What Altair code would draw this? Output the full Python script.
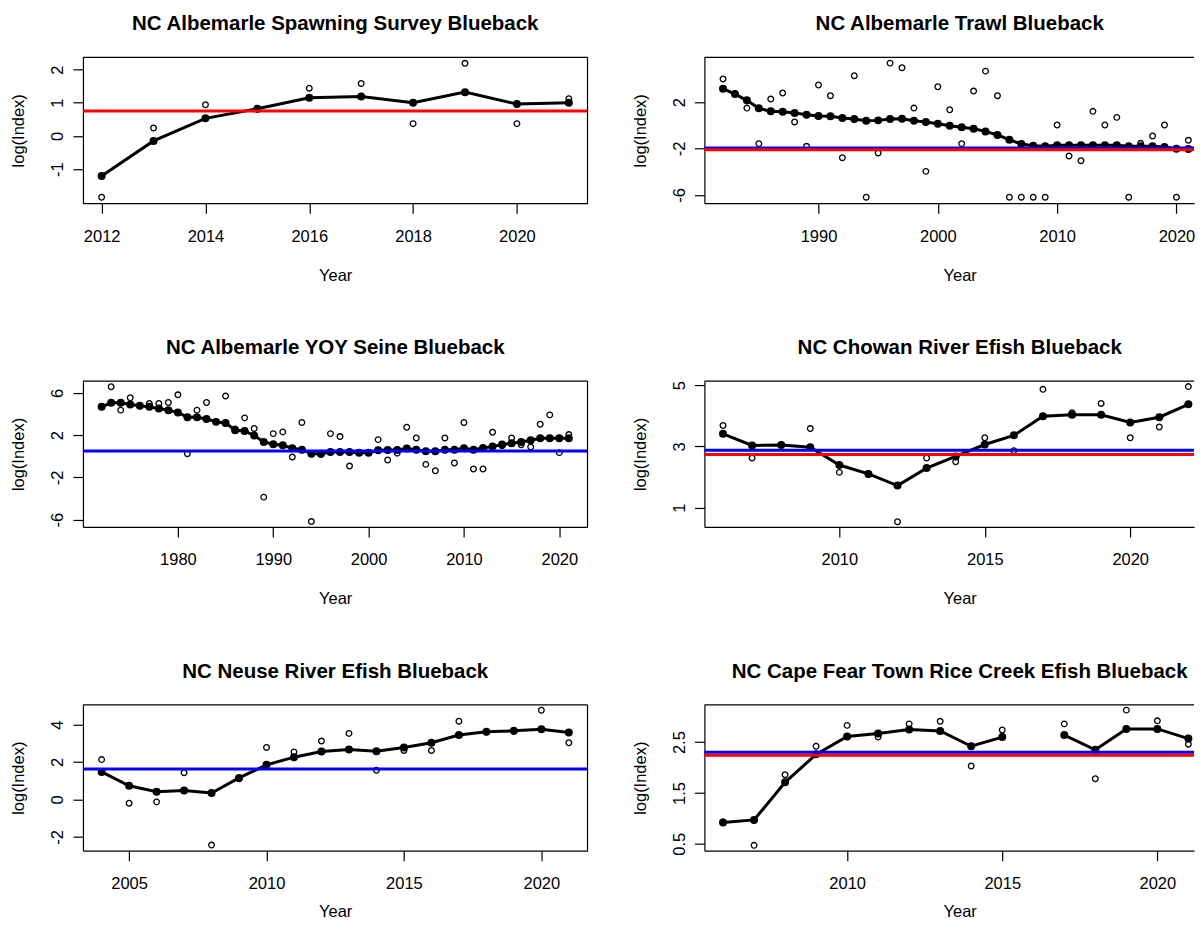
import altair as alt
import pandas as pd

FONT = "Liberation Sans"

# ---------------- data ----------------
# NC Albemarle Spawning Survey Blueback
years1 = list(range(2012, 2022))
obs1 = [-1.85, 0.24, 0.94, 0.80, 1.44, 1.58, 0.37, 2.19, 0.37, 1.12]
fit1 = [-1.21, -0.15, 0.53, 0.82, 1.15, 1.19, 1.00, 1.32, 0.96, 1.00]
seg1 = [0] * 10
red1 = 0.75

# NC Albemarle Trawl Blueback
years2 = list(range(1982, 2022))
obs2 = [4.00, 2.75, 1.49, -1.58, 2.27, 2.79, 0.29, -1.81, 3.48, 2.56,
        -2.79, 4.28, -6.20, -2.39, 5.37, 4.97, 1.49, -3.97, 3.33, 1.35,
        -1.58, 2.96, 4.68, 2.56, -6.20, -6.20, -6.20, -6.20, 0.03, -2.64,
        -3.05, 1.21, 0.03, 0.69, -6.20, -1.55, -0.92, 0.03, -6.20, -1.29]
fit2 = [3.16, 2.70, 2.16, 1.47, 1.21, 1.18, 1.06, 0.92, 0.80, 0.78,
        0.63, 0.55, 0.40, 0.43, 0.55, 0.57, 0.40, 0.29, 0.14, -0.03,
        -0.17, -0.29, -0.52, -0.83, -1.24, -1.61, -1.75, -1.81, -1.72, -1.72,
        -1.72, -1.72, -1.72, -1.72, -1.81, -1.81, -1.81, -1.87, -2.01, -2.04]
seg2 = [0] * 40
blue2 = -1.95
red2 = -2.10

# NC Albemarle YOY Seine Blueback
years3 = list(range(1972, 2022))
obs3 = [4.70, 6.58, 4.37, 5.54, 4.80, 5.00, 5.00, 5.09, 5.82, 0.25,
        4.37, 5.09, 3.30, 5.70, 2.60, 3.64, 2.63, -3.86, 2.15, 2.31,
        -0.06, 3.20, -6.17, 0.20, 2.15, 1.87, -0.92, 0.35, 0.35, 1.58,
        -0.35, 0.30, 2.75, 1.74, -0.76, -1.36, 1.74, -0.63, 3.20, -1.20,
        -1.20, 2.28, 1.00, 1.74, 1.10, 0.89, 3.04, 3.92, 0.35, 2.06]
fit3 = [4.68, 5.06, 5.06, 4.90, 4.78, 4.68, 4.53, 4.37, 4.15, 3.70,
        3.70, 3.54, 3.26, 3.16, 2.47, 2.40, 1.96, 1.36, 1.14, 1.04,
        0.76, 0.63, 0.25, 0.25, 0.41, 0.41, 0.41, 0.35, 0.35, 0.57,
        0.60, 0.60, 0.73, 0.63, 0.47, 0.47, 0.63, 0.63, 0.76, 0.63,
        0.79, 0.92, 1.11, 1.23, 1.36, 1.52, 1.71, 1.71, 1.71, 1.71]
seg3 = [0] * 50
blue3 = 0.51

# NC Chowan River Efish Blueback
years4 = list(range(2006, 2023))
obs4 = [3.68, 2.62, 3.05, 3.58, 2.15, 2.10, 0.54, 2.62, 2.50, 3.28,
        2.86, 4.86, 4.10, 4.40, 3.28, 3.63, 4.95]
fit4 = [3.41, 3.03, 3.04, 2.97, 2.39, 2.10, 1.72, 2.29, 2.67, 3.06,
        3.36, 3.98, 4.03, 4.03, 3.78, 3.95, 4.37]
seg4 = [0] * 17
blue4 = 2.87
red4 = 2.73

# NC Neuse River Efish Blueback
years5 = list(range(2004, 2022))
obs5 = [2.13, -0.20, -0.13, 1.43, -2.44, 1.10, 2.78, 2.54, 3.12, 3.53,
        1.56, 2.62, 2.62, 4.18, 3.60, 3.65, 4.77, 3.03]
fit5 = [1.47, 0.73, 0.41, 0.48, 0.34, 1.15, 1.85, 2.26, 2.56, 2.67,
        2.58, 2.78, 3.03, 3.44, 3.62, 3.67, 3.75, 3.58]
seg5 = [0] * 18
blue5 = 1.63

# NC Cape Fear Town Rice Creek Efish Blueback (no 2016 value)
years6 = [2006, 2007, 2008, 2009, 2010, 2011, 2012, 2013, 2014, 2015,
          2017, 2018, 2019, 2020, 2021]
obs6 = [0.93, 0.47, 1.86, 2.42, 2.83, 2.60, 2.86, 2.91, 2.03, 2.74,
        2.86, 1.78, 3.13, 2.92, 2.46]
fit6 = [0.92, 0.97, 1.71, 2.26, 2.61, 2.67, 2.75, 2.72, 2.42, 2.60,
        2.64, 2.35, 2.76, 2.76, 2.57]
seg6 = [0] * 10 + [1] * 5
blue6 = 2.30
red6 = 2.24

# ---------------- layout ----------------
LW = 505      # left column plot width
RW = 490      # right column plot width (cut off at the page edge)
FULL_R = 503  # full width the right panels would have
H = 146


def crop(lo, hi):
    return [lo, lo + (hi - lo) * RW / FULL_R]


def lab_expr(shown):
    arr = "[" + ",".join(str(v) for v in shown) + "]"
    return f"indexof({arr}, datum.value) >= 0 ? toString(datum.value) : ''"


def panel(title, years, obs, fit, seg, xdom, xvals, ydom, yvals, yshown,
          blue, red, width, left, last_row):
    df = pd.DataFrame({"Year": years, "Obs": obs, "Fit": fit, "Seg": seg})
    xs = alt.Scale(domain=xdom, nice=False, zero=False)
    ys = alt.Scale(domain=ydom, nice=False, zero=False)
    xtx = LW / 2 if left else FULL_R / 2 + 4
    xty = 66 if last_row else 77
    xaxis = alt.Axis(values=xvals, labelExpr="toString(datum.value)",
                     title="Year", titleX=xtx, titleY=xty)
    yaxis = alt.Axis(values=yvals, labelExpr=lab_expr(yshown),
                     title="log(Index)")
    base = alt.Chart(df)
    obs_l = base.mark_point(shape="circle", filled=False, color="black",
                            size=32, strokeWidth=1.3, opacity=1).encode(
        x=alt.X("Year:Q", scale=xs, axis=xaxis),
        y=alt.Y("Obs:Q", scale=ys, axis=yaxis),
    )
    line_l = base.mark_line(color="black", strokeWidth=3).encode(
        x=alt.X("Year:Q", scale=xs, title="Year"),
        y=alt.Y("Fit:Q", scale=ys, title="log(Index)"),
        detail="Seg:N",
    )
    pts_l = base.mark_circle(color="black", size=64, opacity=1).encode(
        x=alt.X("Year:Q", scale=xs, title="Year"),
        y=alt.Y("Fit:Q", scale=ys, title="log(Index)"),
    )
    layers = [obs_l, line_l, pts_l]
    if blue is not None:
        layers.append(
            alt.Chart(pd.DataFrame({"v": [blue]})).mark_rule(
                color="#0000FF", strokeWidth=3).encode(
                y=alt.Y("v:Q", scale=ys, title="log(Index)")))
    if red is not None:
        layers.append(
            alt.Chart(pd.DataFrame({"v": [red]})).mark_rule(
                color="#FF0000", strokeWidth=3).encode(
                y=alt.Y("v:Q", scale=ys, title="log(Index)")))
    # frame: top edge (and right edge for the uncut panels)
    layers.append(
        alt.Chart(pd.DataFrame({"a": [0]})).mark_rule(
            color="black", strokeWidth=1.2).encode(
            x=alt.value(0), x2=alt.value(width), y=alt.value(0)))
    if left:
        layers.append(
            alt.Chart(pd.DataFrame({"a": [0]})).mark_rule(
                color="black", strokeWidth=1.2).encode(
                x=alt.value(width), y=alt.value(0), y2=alt.value(H)))
    dx = 0 if left else (FULL_R - RW) / 2 + 4
    return alt.layer(*layers).properties(
        width=width, height=H,
        title=alt.TitleParams(text=title, font=FONT, fontSize=20.5,
                              fontWeight="bold", color="black",
                              anchor="middle", baseline="alphabetic",
                              offset=6, dx=dx),
    )


p1 = panel("NC Albemarle Spawning Survey Blueback", years1, obs1, fit1, seg1,
           [2011.64, 2021.36], [2012, 2014, 2016, 2018, 2020],
           [-2.03, 2.37], [-1, 0, 1, 2], [-1, 0, 1, 2],
           None, red1, LW, True, False)
p2 = panel("NC Albemarle Trawl Blueback", years2, obs2, fit2, seg2,
           crop(1980.44, 2022.56), [1990, 2000, 2010, 2020],
           [-6.72, 5.87], [-6, -4, -2, 0, 2, 4], [-6, -2, 2, 4],
           blue2, red2, RW, False, False)
p3 = panel("NC Albemarle YOY Seine Blueback", years3, obs3, fit3, seg3,
           [1970.04, 2022.96], [1980, 1990, 2000, 2010, 2020],
           [-6.68, 7.12], [-6, -4, -2, 0, 2, 4, 6], [-6, -2, 2, 6],
           blue3, None, LW, True, False)
p4 = panel("NC Chowan River Efish Blueback", years4, obs4, fit4, seg4,
           crop(2005.36, 2022.64), [2010, 2015, 2020],
           [0.37, 5.13], [1, 2, 3, 4, 5], [1, 2, 3, 4, 5],
           blue4, red4, RW, False, False)
p5 = panel("NC Neuse River Efish Blueback", years5, obs5, fit5, seg5,
           [2003.32, 2021.68], [2005, 2010, 2015, 2020],
           [-2.74, 5.06], [-2, 0, 2, 4], [-2, 0, 2, 4],
           blue5, None, LW, True, True)
p6 = panel("NC Cape Fear Town Rice Creek Efish Blueback", years6, obs6, fit6,
           seg6, crop(2005.4, 2021.6), [2010, 2015, 2020],
           [0.365, 3.235], [0.5, 1.0, 1.5, 2.0, 2.5, 3.0], [0.5, 1.5, 2.5],
           blue6, red6, RW, False, True)

chart = alt.concat(
    p1, p2, p3, p4, p5, p6, columns=2,
    spacing={"row": 178, "column": 117}, bounds="flush",
).properties(
    padding={"left": 3, "top": 5, "right": 0, "bottom": 0},
).configure_view(
    strokeWidth=0,
).configure_axis(
    grid=False, domainColor="black", domainWidth=1.2, tickColor="black",
    tickWidth=1.2, tickSize=10, labelColor="black", labelFont=FONT,
    labelFontSize=16.5, titleColor="black", titleFont=FONT,
    titleFontSize=16.5, titleFontWeight="normal", labelOverlap=False,
    labelFlush=False,
).configure_axisX(
    labelAngle=0, labelAlign="center", labelBaseline="alphabetic",
    labelPadding=28, titleBaseline="alphabetic", titleAlign="center",
).configure_axisY(
    labelAngle=270, labelAlign="center", labelBaseline="alphabetic",
    labelPadding=10, titleAngle=270, titleBaseline="alphabetic",
    titleAlign="center", titleX=-59, titleY=H / 2,
)

chart.save("out.html", embed_options={"renderer": "svg", "actions": False})
